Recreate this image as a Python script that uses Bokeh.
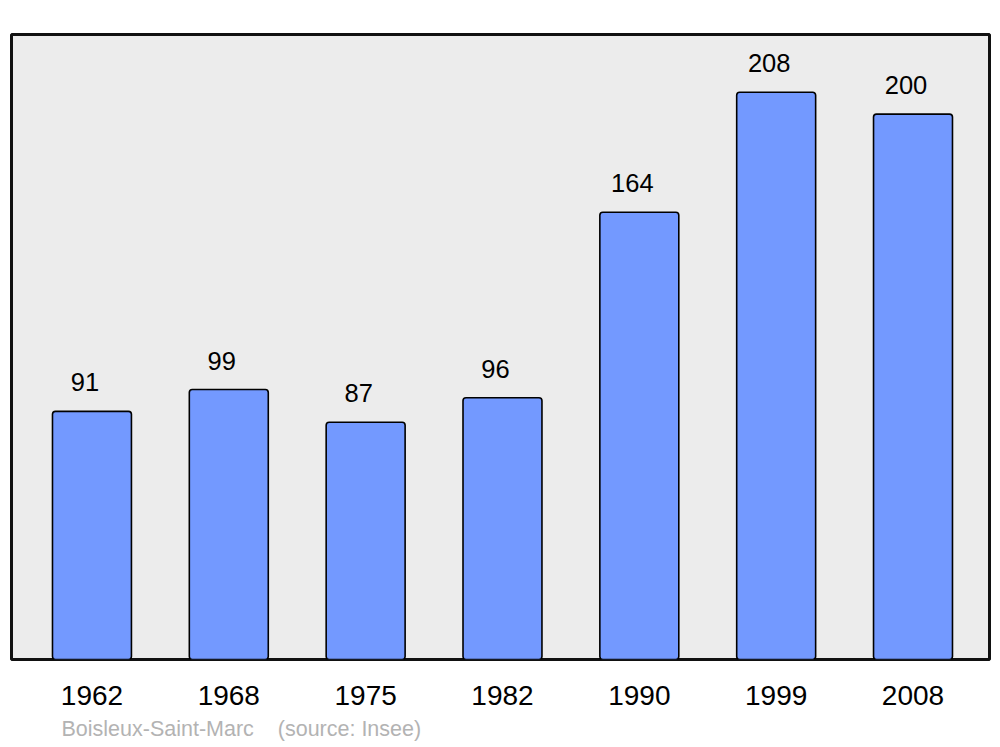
from bokeh.plotting import figure
from bokeh.models import FixedTicker, Range1d, Title, ColumnDataSource
from bokeh.core.properties import value
from bokeh.embed import file_html
from bokeh.resources import INLINE

years = ["1962", "1968", "1975", "1982", "1990", "1999", "2008"]
population = [91, 99, 87, 96, 164, 208, 200]
footer = "Boisleux-Saint-Marc\u00a0\u00a0\u00a0\u00a0(source: Insee)"

idx = list(range(len(years)))
src = ColumnDataSource(dict(x=idx, top=population, label=[str(v) for v in population]))

p = figure(width=995, height=747, output_backend="svg", toolbar_location=None,
           x_range=Range1d(-0.588, 6.559), y_range=Range1d(0, 229.2),
           min_border_left=11, min_border_right=6, min_border_top=34, min_border_bottom=10)
p.background_fill_color = "#ececec"
p.border_fill_color = "white"
p.outline_line_color = "#111111"
p.outline_line_width = 3
p.xgrid.visible = False
p.ygrid.visible = False
p.yaxis.visible = False

p.vbar(x="x", top="top", bottom=0, width=0.577, source=src,
       fill_color="#7399ff", line_color="black", line_width=1.6, border_radius=3)

p.text(x="x", y="top", text="label", source=src, x_offset=-7, y_offset=-29,
       text_align="center", text_baseline="alphabetic",
       text_font=value("Liberation Sans"), text_font_size="25.5px", text_color="black")

ax = p.xaxis[0]
ax.ticker = FixedTicker(ticks=idx)
ax.major_label_overrides = {i: y for i, y in zip(idx, years)}
ax.axis_line_color = None
ax.major_tick_line_color = None
ax.minor_tick_line_color = None
ax.major_label_text_font = "Liberation Sans"
ax.major_label_text_font_size = "28px"
ax.major_label_text_color = "black"
ax.major_label_standoff = 20

t = Title(text=footer, align="left", offset=50, text_font="Liberation Sans",
          text_font_size="21.5px", text_font_style="normal", text_color="#b3b3b3",
          standoff=14)
p.add_layout(t, "below")

open("out.html", "w").write(file_html(p, INLINE))
